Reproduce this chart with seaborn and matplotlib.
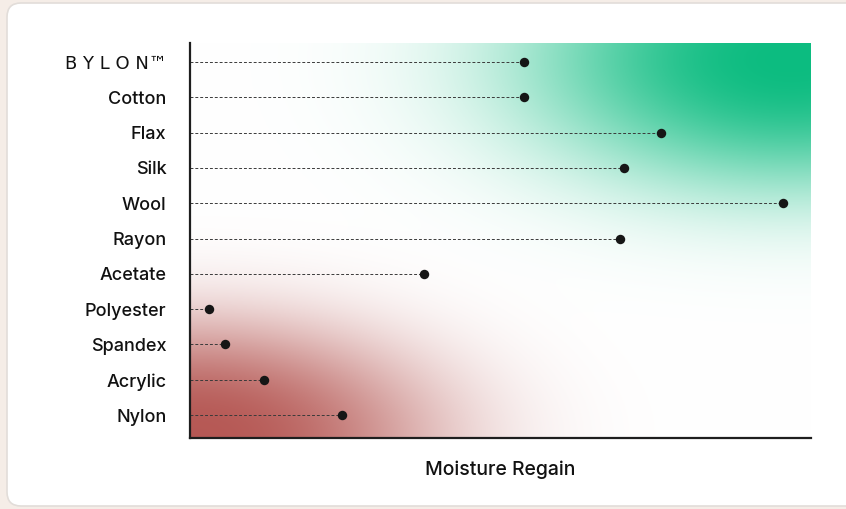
#loading libraries
import numpy as np
import pandas as pd
import matplotlib.pyplot as plt
import seaborn as sns
from matplotlib.patches import FancyBboxPatch

# fabrics, top to bottom, and moisture regain (%)
fabrics = ["BYLON", "Cotton", "Flax", "Silk", "Wool", "Rayon",
           "Acetate", "Polyester", "Spandex", "Acrylic", "Nylon"]
regain = [9.0, 9.0, 12.7, 11.7, 16.0, 11.6, 6.3, 0.5, 0.95, 2.0, 4.1]
x_label = "Moisture Regain"
brand_label = "B Y L O N\u2122"

df = pd.DataFrame({"fabric": fabrics, "regain": regain})

sns.set_style("white")
plt.rcParams["font.family"] = ["Inter", "DejaVu Sans"]

fig = plt.figure(figsize=(8.46, 5.09), dpi=100)
fig.patch.set_facecolor("#f5ede7")

# white rounded card behind everything
card = FancyBboxPatch((0.07, 0.03), 8.6, 5.03,
                      boxstyle="round,pad=0,rounding_size=0.14",
                      transform=fig.dpi_scale_trans, facecolor="white",
                      edgecolor="#e2ddd9", linewidth=1.2, zorder=-5)
fig.patches.append(card)

ax = fig.add_axes([0.2246, 0.1395, 0.734, 0.776])
ax.set_facecolor("none")

# background glow: green top right, red bottom left (soft super-gaussian)
u, v = np.meshgrid(np.linspace(0, 1, 400), np.linspace(0, 1, 300))
r_g = ((u - 0.97) / 0.43) ** 2 + ((v - 0.96) / 0.33) ** 2
a_g = np.exp(-r_g ** 1.2)
r_r = ((u - 0.0) / 0.40) ** 2 + ((v - 0.0) / 0.30) ** 2
a_r = np.exp(-r_r ** 1.3) * 0.95
green = np.array([12, 188, 128]) / 255
red = np.array([178, 80, 76]) / 255
img = np.ones((300, 400, 3))
img = img * (1 - a_g[..., None]) + green * a_g[..., None]
img = img * (1 - a_r[..., None]) + red * a_r[..., None]
ax.imshow(img, extent=(0, 1, 0, 1), transform=ax.transAxes, origin="lower",
          aspect="auto", zorder=0)

# dashed stems + dots
ypos = np.arange(len(fabrics))
ax.hlines(ypos, 0, df["regain"], colors="#3a3a3a", linewidth=0.7,
          linestyles=(0, (3, 2)), zorder=2)
sns.stripplot(data=df, x="regain", y="fabric", jitter=False, size=6.8,
              color="#161616", linewidth=0, ax=ax, zorder=3)

ax.set_xlim(0, 16.75)
ax.set_ylim(10.65, -0.54)
ax.set_xticks([])
ax.set_xlabel(x_label, fontsize=14, fontweight="medium", labelpad=16,
              color="#111111")
ax.set_ylabel("")
ax.tick_params(axis="y", length=0, pad=17, labelsize=13, labelcolor="#111111")
ticklabels = ax.get_yticklabels()
ticklabels[0].set_text(brand_label)
ax.set_yticklabels(ticklabels)
for lab in ax.get_yticklabels():
    lab.set_fontweight("medium")
ax.get_yticklabels()[0].set_fontfamily("DejaVu Sans")
ax.get_yticklabels()[0].set_fontsize(13)
ax.get_yticklabels()[0].set_fontweight("normal")

for side in ["top", "right"]:
    ax.spines[side].set_visible(False)
for side in ["left", "bottom"]:
    ax.spines[side].set_color("#1e1e1e")
    ax.spines[side].set_linewidth(1.6)

fig.savefig("out.png", dpi=100, facecolor=fig.get_facecolor())
